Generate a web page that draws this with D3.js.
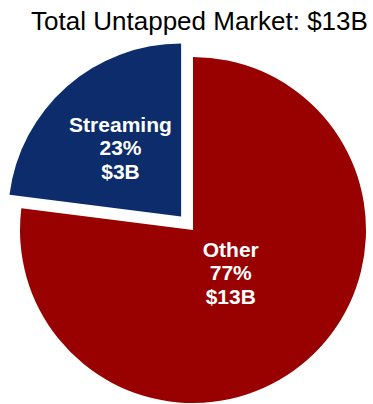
<!DOCTYPE html>
<html>
<head>
<meta charset="utf-8">
<script src="https://cdn.jsdelivr.net/npm/d3@7"></script>
<style>
  html, body { margin: 0; padding: 0; background: #fff; }
  svg { display: block; }
</style>
</head>
<body>
<svg id="chart" width="373" height="404"></svg>
<script>
const title = "Total Untapped Market: $13B";
const categories = ["Other", "Streaming"];
const shares = [77, 23];
const valueLabels = ["$13B", "$3B"];
const colors = ["#990000", "#0C2C6B"];
const exploded = [false, true];

const W = 373, H = 404;
const cx = 193, cy = 230, r = 173, explodeOffset = 18;
const labelRadius = [0.33, 0.53];

const svg = d3.select("#chart");

svg.append("text")
  .attr("x", 199.5).attr("y", 30)
  .attr("text-anchor", "middle")
  .attr("font-family", "Liberation Sans, Arial, sans-serif")
  .attr("font-size", 26)
  .attr("fill", "#000")
  .text(title);

const data = categories.map((c, i) => ({ name: c, share: shares[i], value: valueLabels[i], color: colors[i], exploded: exploded[i], lr: labelRadius[i] }));

const pie = d3.pie().sort(null).value(d => d.share);
const arcs = pie(data);
const arc = d3.arc().innerRadius(0).outerRadius(r);

const g = svg.append("g").attr("transform", `translate(${cx},${cy})`);

const slices = g.selectAll("g.slice").data(arcs).join("g")
  .attr("class", "slice")
  .attr("transform", d => {
    if (!d.data.exploded) return null;
    const a = (d.startAngle + d.endAngle) / 2;
    return `translate(${Math.sin(a) * explodeOffset},${-Math.cos(a) * explodeOffset})`;
  });

slices.append("path")
  .attr("d", arc)
  .attr("fill", d => d.data.color);

slices.each(function(d) {
  const a = (d.startAngle + d.endAngle) / 2;
  const lr = d.data.lr * r;
  const x = Math.sin(a) * lr, y = -Math.cos(a) * lr;
  const t = d3.select(this).append("text")
    .attr("text-anchor", "middle")
    .attr("font-family", "Liberation Sans, Arial, sans-serif")
    .attr("font-weight", "bold")
    .attr("font-size", 21)
    .attr("fill", "#fff");
  const lines = [d.data.name, d.data.share + "%", d.data.value];
  lines.forEach((ln, i) => {
    t.append("tspan").attr("x", x).attr("y", y + 7.5 + (i - 1) * 23.5).text(ln);
  });
});
</script>
</body>
</html>
